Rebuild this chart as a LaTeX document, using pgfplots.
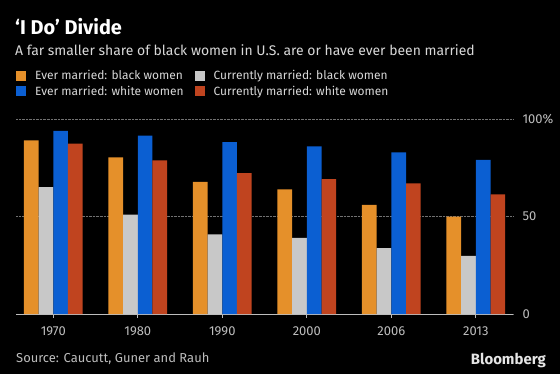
\documentclass[border=0pt]{standalone}
\usepackage{fontspec}
\setmainfont{Fira Sans}
\usepackage{pgfplots}
\pgfplotsset{compat=1.18}
\definecolor{cOrange}{HTML}{E5902A}
\definecolor{cGray}{HTML}{C8C8C8}
\definecolor{cBlue}{HTML}{0B5FD2}
\definecolor{cRed}{HTML}{C0441F}
\definecolor{cText}{HTML}{D8D8D8}
\definecolor{cTick}{HTML}{BDBDBD}
\begin{document}
\begin{tikzpicture}[x=1bp,y=1bp]
\fill[black] (0,0) rectangle (560,374);
\useasboundingbox (0,0) rectangle (560,374);
\node[anchor=base west, text=white, font=\fontsize{20}{24}\selectfont\bfseries, inner sep=0] at (15,374-34) {‘I Do’ Divide};
\node[anchor=base west, text=cText, font=\fontsize{14}{17}\selectfont, inner sep=0] at (15,374-55) {A far smaller share of black women in U.S. are or have ever been married};
\node[anchor=base west, text=cTick, font=\fontsize{13}{15}\selectfont, inner sep=0] at (16,374-362) {Source: Caucutt, Guner and Rauh};
\node[anchor=base east, text=white!90!black, font=\fontsize{15}{17}\selectfont\bfseries, inner sep=0] at (546,374-364) {Bloomberg};
\begin{axis}[
  at={(16bp,60bp)}, anchor=south west,
  scale only axis, width=497bp, height=195bp,
  ybar=0pt, bar width=14.7bp,
  xmin=-0.441, xmax=5.44, ymin=0, ymax=100,
  xtick={0,1,2,3,4,5},
  xticklabels={1970,1980,1990,2000,2006,2013},
  ytick={0,50,100}, yticklabels={0,50,100\%},
  axis x line*=bottom, axis y line*=right,
  x axis line style={draw=cTick, line width=0.8pt, -},
  y axis line style={draw=none},
  yticklabel pos=right,
  ymajorgrids, grid style={densely dotted, cTick!60!black, line width=0.6pt},
  major x tick style={draw=cTick, line width=0.8pt},
  major y tick style={draw=none},
  tick align=outside, major tick length=4bp,
  ticklabel style={text=cTick, font=\fontsize{13}{15}\selectfont},
  yticklabel style={xshift=2bp},
  xticklabel style={yshift=-5bp},
  /pgf/number format/assume math mode=true,
  legend columns=2,
  legend cell align=left,
  legend style={at={(0,1)}, anchor=south west, xshift=0bp, yshift=20bp,
    draw=none, fill=none, text=cText, font=\fontsize{12}{15}\selectfont,
    inner sep=0pt, row sep=1bp,
    /tikz/every odd column/.append style={column sep=7bp},
    /tikz/every even column/.append style={column sep=9bp}},
  legend image code/.code={\fill[#1] (0bp,-5bp) rectangle (10bp,5bp);},
]
\addplot[fill=cOrange, draw=none] coordinates {(0,89.0) (1,80.3) (2,67.8) (3,63.9) (4,55.9) (5,50.0)};
\addplot[fill=cGray, draw=none] coordinates {(0,65.1) (1,51.0) (2,40.8) (3,39.1) (4,33.8) (5,29.8)};
\addplot[fill=cBlue, draw=none] coordinates {(0,93.9) (1,91.5) (2,88.2) (3,86.0) (4,82.9) (5,79.0)};
\addplot[fill=cRed, draw=none] coordinates {(0,87.4) (1,78.8) (2,72.3) (3,69.2) (4,67.0) (5,61.3)};
\legend{Ever married: black women, Currently married: black women, Ever married: white women, Currently married: white women}
\end{axis}
\end{tikzpicture}
\end{document}
